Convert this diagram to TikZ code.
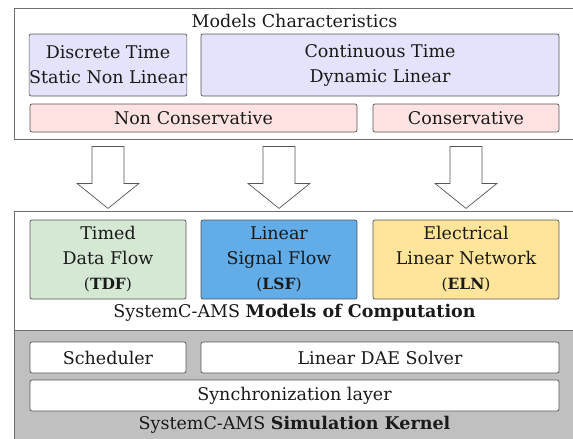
\documentclass[tikz,border=0pt]{standalone}
\usepackage{fontspec}
\setmainfont{DejaVu Serif}
\usetikzlibrary{calc}
\definecolor{bordergray}{HTML}{555555}
\definecolor{outergray}{HTML}{6E6E6E}
\definecolor{lav}{HTML}{E3E3FB}
\definecolor{pinkish}{HTML}{FFE3E3}
\definecolor{greenish}{HTML}{D5E8D4}
\definecolor{blueish}{HTML}{62ACE8}
\definecolor{yellowish}{HTML}{FFE59B}
\definecolor{kernelgray}{HTML}{C0C0C0}
\definecolor{txt}{HTML}{1A1A1A}
\tikzset{
  outerbox/.style={draw=outergray, line width=0.8pt, inner sep=0pt},
  inbox/.style={draw=bordergray, line width=0.7pt, rounded corners=2pt, inner sep=0pt, align=center, text=txt, font=\fontsize{17.5}{25}\selectfont},
  lbl/.style={inner sep=0pt, text=txt, font=\fontsize{17.5}{25}\selectfont},
  blockarrow/.style={draw=bordergray, line width=0.7pt, fill=white, line join=miter},
}
\newcommand{\abbr}[1]{{\fontsize{15.5}{25}\selectfont(\textbf{#1})}}
\begin{document}
\begin{tikzpicture}[x=1pt, y=-1pt]
\useasboundingbox (0,0) rectangle (573,439);
\clip (0,0) rectangle (573,439);
% outer boxes
\node[outerbox, minimum width=576pt, minimum height=131pt] (top) at (302,73.5) {};
\node[outerbox, minimum width=576pt, minimum height=119pt] (moc) at (302,270.5) {};
\node[outerbox, fill=kernelgray, minimum width=576pt, minimum height=130pt] (kern) at (302,395) {};
% top content
\node[lbl] (title) at (294.5,21) {Models Characteristics};
\node[inbox, fill=lav, minimum width=156pt, minimum height=62pt] (dt) at (108,65) {Discrete Time\\Static Non Linear};
\node[inbox, fill=lav, minimum width=358pt, minimum height=62pt] (ct) at (380,65) {Continuous Time\\Dynamic Linear};
\node[inbox, fill=pinkish, minimum width=327pt, minimum height=28pt] (nc) at (193.5,118) {Non Conservative};
\node[inbox, fill=pinkish, minimum width=186pt, minimum height=28pt] (cons) at (466,118) {Conservative};
% models of computation
\node[inbox, fill=greenish, minimum width=156pt, minimum height=79pt] (tdf) at (108,259.5) {Timed\\Data Flow\\\abbr{TDF}};
\node[inbox, fill=blueish, minimum width=156pt, minimum height=79pt] (lsf) at (279,259.5) {Linear\\Signal Flow\\\abbr{LSF}};
\node[inbox, fill=yellowish, minimum width=186pt, minimum height=79pt] (eln) at (466,259.5) {Electrical\\Linear Network\\\abbr{ELN}};
\node[lbl] (moctitle) at (294.5,313) {SystemC-AMS \textbf{Models of Computation}};
% kernel
\node[inbox, fill=white, minimum width=156pt, minimum height=31pt] (sched) at (108,357.5) {Scheduler};
\node[inbox, fill=white, minimum width=358pt, minimum height=31pt] (dae) at (380,357.5) {Linear DAE Solver};
\node[inbox, fill=white, minimum width=529pt, minimum height=31pt] (sync) at (294.5,395.5) {Synchronization layer};
\node[lbl] (kerntitle) at (294.5,425) {SystemC-AMS \textbf{Simulation Kernel}};
% block arrows
\foreach \n in {tdf,lsf,eln}{
  \coordinate (a-\n) at ($(\n.north |- top.south)+(0,7)$);
  \draw[blockarrow] (a-\n) +(-16,0) -- +(16,0) -- +(16,37) -- +(31,37) -- +(0,62) -- +(-31,37) -- +(-16,37) -- cycle;
}
\end{tikzpicture}
\end{document}
